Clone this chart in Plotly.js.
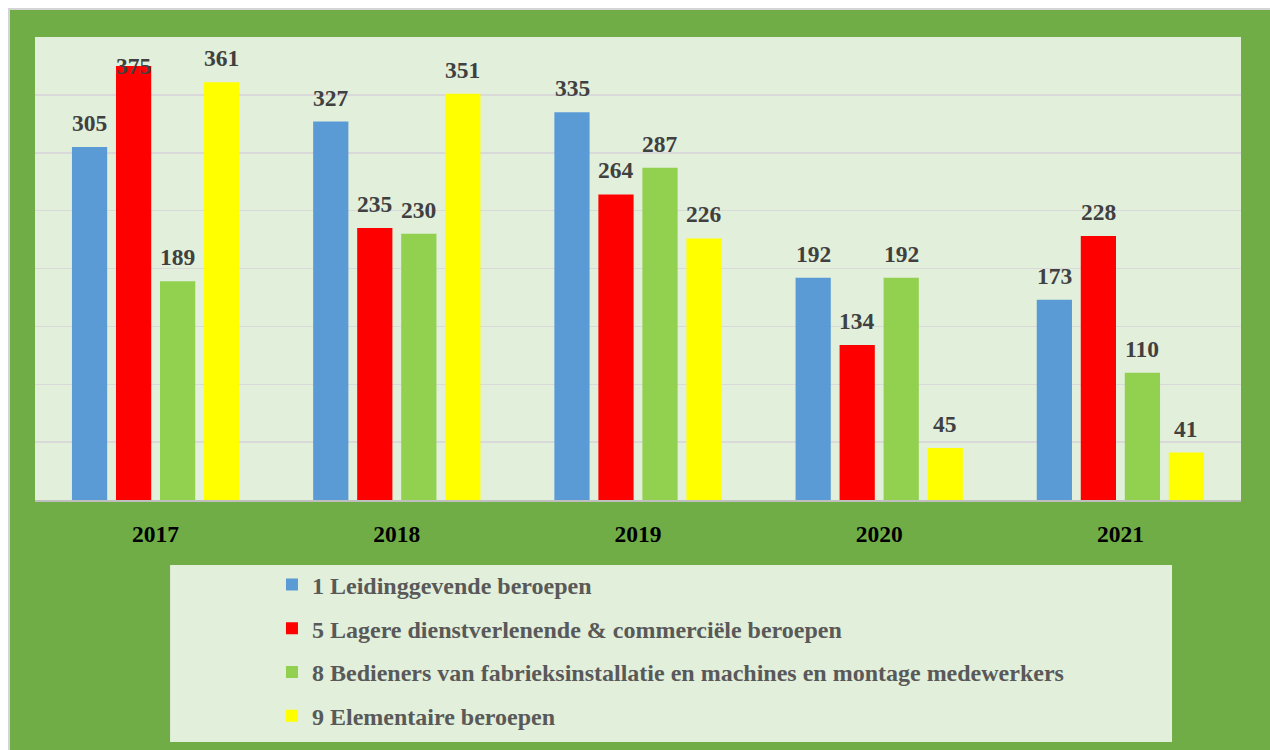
<!DOCTYPE html>
<html>
<head>
<meta charset="utf-8">
<script src="https://cdn.plot.ly/plotly-3.0.1.min.js"></script>
<style>
  html, body { margin: 0; padding: 0; background: #ffffff; overflow: hidden; }
  #frame { position: absolute; left: 8px; top: 8px; width: 1270px; height: 750px;
           border-left: 2px solid #d4d4d4; border-top: 2px solid #d4d4d4; }
  #chart { width: 1260px; height: 740px; }
</style>
</head>
<body>
<div id="frame"><div id="chart"></div></div>
<script>
const years = ["2017", "2018", "2019", "2020", "2021"];
const seriesNames = [
    "1 Leidinggevende beroepen",
    "5 Lagere dienstverlenende & commerciële beroepen",
    "8 Bedieners van fabrieksinstallatie en machines en montage medewerkers",
    "9 Elementaire beroepen"
];
const leidinggevend = [305, 327, 335, 192, 173];
const dienstverlenend = [375, 235, 264, 134, 228];
const bedieners = [189, 230, 287, 192, 110];
const elementair = [361, 351, 226, 45, 41];

const seriesValues = [leidinggevend, dienstverlenend, bedieners, elementair];
const colors = ["#5B9BD5", "#FF0000", "#92D050", "#FFFF00"];
const labelShift = [-66, -22, 22, 66]; // centre of each bar within its year group

const serif = "Liberation Serif, Times New Roman, serif";
const yMax = 400;
const plotH = 463;

const traces = seriesValues.map((vals, i) => ({
    type: "bar",
    name: seriesNames[i],
    x: years,
    y: vals,
    marker: { color: colors[i] },
    legendgroup: "g" + i,
    hoverinfo: "none"
}));

// value labels above each bar (x given as category index);
// like Excel, a label with no room above the bar sits on its top edge
const annotations = [];
seriesValues.forEach((vals, i) => {
    vals.forEach((v, j) => {
        const room = (yMax - v) * plotH / yMax;
        const fits = room >= 36;
        annotations.push({
            x: j, y: v, xref: "x", yref: "y",
            text: String(v),
            showarrow: false,
            xshift: labelShift[i],
            yanchor: fits ? "bottom" : "middle",
            yshift: fits ? 9 : 0,
            font: { family: serif, size: 23.5, color: "#404040", weight: "bold" }
        });
    });
});

const layout = {
    width: 1260,
    height: 740,
    paper_bgcolor: "#70AD47",
    plot_bgcolor: "#E2EFDA",
    margin: { l: 25, r: 29, t: 27, b: 250, autoexpand: false },
    barmode: "group",
    bargap: 0.27,
    bargroupgap: 0.2,
    showlegend: true,
    xaxis: {
        type: "category",
        range: [-0.5, 4.5],
        showgrid: false,
        showline: true,
        linecolor: "#BFBFBF",
        linewidth: 2,
        ticks: "outside",
        ticklen: 12,
        tickcolor: "rgba(0,0,0,0)",
        automargin: false,
        tickfont: { family: serif, size: 23.5, color: "#000000", weight: "bold" }
    },
    yaxis: {
        range: [0, yMax],
        dtick: 50,
        showticklabels: false,
        showgrid: true,
        gridcolor: "#D9D9D9",
        gridwidth: 1.5,
        zeroline: false,
        automargin: false
    },
    legend: {
        orientation: "v",
        x: 0.1965,
        xanchor: "left",
        y: -0.135,
        yanchor: "top",
        bgcolor: "rgba(0,0,0,0)",
        tracegroupgap: 9.5,
        itemclick: false,
        font: { family: serif, size: 24, color: "#595959", weight: "bold" }
    },
    shapes: [{
        type: "rect", xref: "paper", yref: "paper",
        x0: 0.112, x1: 0.9428, y0: -0.5227, y1: -0.1404,
        fillcolor: "#E2EFDA", line: { width: 0 }, layer: "below"
    }],
    annotations: annotations
};

Plotly.newPlot("chart", traces, layout, { displayModeBar: false, staticPlot: true });
</script>
</body>
</html>
